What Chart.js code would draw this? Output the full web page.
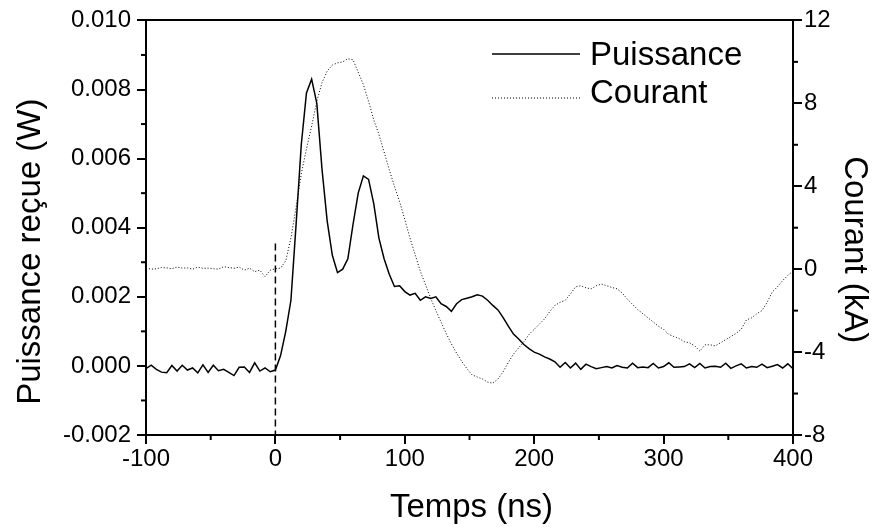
<!DOCTYPE html>
<html>
<head>
<meta charset="utf-8">
<script src="https://cdn.jsdelivr.net/npm/chart.js@4/dist/chart.umd.min.js"></script>
<style>
  html, body { margin: 0; padding: 0; background: #fff; }
  #wrap { width: 878px; height: 527px; }
</style>
</head>
<body>
<div id="wrap"><canvas id="c" width="878" height="527"></canvas></div>
<script>
// ---- data ----
const times = [
  -100,-96,-92,-88,-84,-80,-76,-72,-68,-64,-60,-56,-52,-48,-44,-40,-36,-32,-28,-24,-20,-16,-12,-8,-4,0,
  4,8,12,16,20,24,28,32,36,40,44,48,52,56,60,64,68,72,76,80,84,88,92,96,100,104,108,112,116,120,124,128,
  132,136,140,144,148,152,156,160,164,168,172,176,180,184,188,192,196,200,204,208,212,216,
  220,224,228,232,236,240,244,248,252,256,260,264,268,272,276,280,284,288,292,296,300,304,308,312,316,320,
  324,328,332,336,340,344,348,352,356,360,364,368,372,376,380,384,388,392,396,400
];
const puissance = [
  -0.00008,0.00002,-0.00010,-0.00018,-0.00020,0.00001,-0.00015,0.00002,-0.00012,-0.00006,-0.00020,0.00003,-0.00019,
  0.00002,-0.00014,-0.00010,-0.00019,-0.00028,-0.00004,-0.00003,-0.00019,0.00009,-0.00015,-0.00006,-0.00017,-0.00012,
  0.00030,0.00100,0.00190,0.00410,0.00640,0.00790,0.00830,0.00760,0.00570,0.00420,0.00320,0.00270,0.00280,0.00310,
  0.00410,0.00500,0.00550,0.00540,0.00470,0.00370,0.00310,0.00265,0.00230,0.00232,0.00215,0.00205,0.00210,0.00190,
  0.00200,0.00195,0.00200,0.00180,0.00172,0.00158,0.00180,0.00192,0.00196,0.00200,0.00206,0.00202,0.00190,0.00175,
  0.00162,0.00140,0.00115,0.00092,0.00078,0.00062,0.00050,0.00040,0.00034,0.00026,0.00020,0.00012,
  -0.00004,0.00010,-0.00006,0.00008,-0.00010,0.00005,-0.00002,-0.00008,-0.00005,-0.00002,-0.00006,0.00001,-0.00004,
  -0.00006,0.00008,-0.00005,-0.00003,-0.00005,0.00007,-0.00006,-0.00002,0.00009,-0.00004,-0.00003,-0.00002,0.00006,
  -0.00005,0.00007,-0.00006,-0.00002,-0.00001,-0.00004,0.00008,-0.00007,0.00000,0.00006,-0.00006,-0.00002,-0.00004,
  0.00005,-0.00005,-0.00001,0.00004,-0.00006,0.00006,-0.00008
];
const courant = [
  0.05,0.00,0.02,0.08,0.06,0.02,0.10,0.05,0.06,0.00,0.10,0.04,0.05,0.02,0.00,0.12,0.08,0.04,0.10,-0.05,0.05,-0.12,
  -0.05,-0.36,-0.05,0.02,
  0.05,0.40,1.50,3.00,4.60,5.80,6.90,8.10,9.00,9.55,9.85,9.95,10.00,10.15,10.10,9.50,8.90,8.10,7.20,6.50,5.65,4.80,
  4.00,3.25,2.40,1.50,0.70,-0.10,-0.75,-1.40,-2.00,-2.55,-3.10,-3.60,-4.05,-4.45,-4.80,-5.10,-5.20,-5.30,-5.45,-5.50,
  -5.30,-4.95,-4.50,-4.10,-3.80,-3.50,-3.15,-2.90,-2.65,-2.40,-2.05,-1.75,
  -1.60,-1.50,-1.20,-0.85,-0.80,-0.90,-0.95,-0.80,-0.72,-0.80,-0.88,-0.95,-1.15,-1.45,-1.70,-1.95,-2.15,-2.35,-2.55,
  -2.75,-2.90,-3.15,-3.25,-3.35,-3.50,-3.55,-3.70,-3.95,-3.65,-3.65,-3.70,-3.55,-3.40,-3.25,-3.10,-2.90,-2.45,-2.35,
  -2.15,-2.00,-1.60,-1.10,-0.85,-0.55,-0.30,-0.10
];
const markerTimes = [0, 0];
const markerValues = [0.00354, -0.002];
const seriesLabels = ['Puissance', 'Courant'];
const axisTitles = { x: 'Temps (ns)', y: 'Puissance reçue (W)', y2: 'Courant (kA)' };
const xTicks = { min: -100, max: 400, step: 100 };
const yLeftTicks = { min: -0.002, max: 0.010, step: 0.002 };
const yRightTicks = { min: -8, max: 12, step: 4 };

// ---- drawing ----
const FONT = '"Liberation Sans", Arial, Helvetica, sans-serif';
const tickFont = { family: FONT, size: 24 };
const TITLE_PX = 33;

const minorTicks = {
  id: 'minorTicks',
  afterDraw(chart) {
    const ctx = chart.ctx;
    ctx.save();
    ctx.strokeStyle = '#000';
    ctx.lineWidth = 2;
    const len = 5;
    ['x', 'y', 'y2'].forEach(id => {
      const s = chart.scales[id];
      const tv = s.ticks.map(t => t.value);
      for (let i = 0; i < tv.length - 1; i++) {
        const v = (tv[i] + tv[i + 1]) / 2;
        const p = s.getPixelForValue(v);
        ctx.beginPath();
        if (id === 'x') { ctx.moveTo(p, s.top); ctx.lineTo(p, s.top + len); }
        else if (id === 'y') { ctx.moveTo(s.right, p); ctx.lineTo(s.right - len, p); }
        else { ctx.moveTo(s.left, p); ctx.lineTo(s.left + len, p); }
        ctx.stroke();
      }
    });
    ctx.restore();
  }
};

const titlesPlugin = {
  id: 'titlesPlugin',
  afterDraw(chart) {
    const ctx = chart.ctx;
    const a = chart.chartArea;
    const sx = chart.scales.x, sy = chart.scales.y, sy2 = chart.scales.y2;
    ctx.save();
    ctx.font = TITLE_PX + 'px ' + FONT;
    ctx.fillStyle = '#000';
    ctx.textAlign = 'center';
    ctx.textBaseline = 'alphabetic';
    // bottom
    ctx.fillText(axisTitles.x, (sx.left + sx.right) / 2 + 2, sx.bottom - 10);
    // left
    ctx.save();
    ctx.translate(sy.left + 40, (a.top + a.bottom) / 2 + 24);
    ctx.rotate(-Math.PI / 2);
    ctx.fillText(axisTitles.y, 0, 0);
    ctx.restore();
    // right
    ctx.save();
    ctx.translate(sy2.right - 33, (a.top + a.bottom) / 2 + 22);
    ctx.rotate(Math.PI / 2);
    ctx.fillText(axisTitles.y2, 0, 0);
    ctx.restore();
    ctx.restore();
  }
};

const insideLegend = {
  id: 'insideLegend',
  afterDraw(chart) {
    const ctx = chart.ctx;
    const a = chart.chartArea;
    const rows = [
      { textY: 65, lineY: 54 },
      { textY: 103, lineY: 98 }
    ];
    ctx.save();
    ctx.font = TITLE_PX + 'px ' + FONT;
    ctx.fillStyle = '#000';
    ctx.textBaseline = 'alphabetic';
    ctx.textAlign = 'left';
    let r = 0;
    chart.data.datasets.forEach(ds => {
      if (!ds.label) return;
      const row = rows[r++];
      ctx.beginPath();
      ctx.strokeStyle = ds.borderColor;
      ctx.lineWidth = ds.borderWidth;
      ctx.setLineDash(ds.borderDash || []);
      ctx.moveTo(a.right - 301, row.lineY);
      ctx.lineTo(a.right - 213, row.lineY);
      ctx.stroke();
      ctx.setLineDash([]);
      ctx.fillText(ds.label, a.right - 203, row.textY);
    });
    ctx.restore();
  }
};

const axisCommon = (extra) => Object.assign({
  grid: { display: true, drawOnChartArea: false, drawTicks: true, tickLength: 9, color: '#000', lineWidth: 2 },
  border: { display: true, color: '#000', width: 2 }
}, extra);

new Chart(document.getElementById('c'), {
  type: 'line',
  data: {
    datasets: [
      {
        label: seriesLabels[0],
        data: times.map((t, i) => ({ x: t, y: puissance[i] })),
        borderColor: '#000', borderWidth: 1.5, pointRadius: 0, tension: 0, yAxisID: 'y', xAxisID: 'x'
      },
      {
        label: seriesLabels[1],
        data: times.map((t, i) => ({ x: t, y: courant[i] })),
        borderColor: '#000', borderWidth: 1, borderDash: [1, 2], pointRadius: 0, tension: 0, yAxisID: 'y2', xAxisID: 'x'
      },
      {
        label: '',
        data: markerTimes.map((t, i) => ({ x: t, y: markerValues[i] })),
        borderColor: '#000', borderWidth: 1.5, borderDash: [7, 4], pointRadius: 0, yAxisID: 'y', xAxisID: 'x'
      }
    ]
  },
  options: {
    responsive: false,
    animation: false,
    devicePixelRatio: 1,
    layout: { padding: 0 },
    plugins: { legend: { display: false }, tooltip: { enabled: false } },
    scales: {
      x: axisCommon({
        type: 'linear', position: 'bottom',
        min: xTicks.min, max: xTicks.max,
        ticks: { stepSize: xTicks.step, color: '#000', font: tickFont, padding: 1, maxRotation: 0 },
        afterFit: s => { s.height = 92; }
      }),
      xTop: {
        type: 'linear', position: 'top', min: xTicks.min, max: xTicks.max,
        ticks: { display: false }, grid: { display: false },
        border: { display: true, color: '#000', width: 2 },
        afterFit: s => { s.height = 19; }
      },
      y: axisCommon({
        type: 'linear', position: 'left',
        min: yLeftTicks.min, max: yLeftTicks.max,
        ticks: { stepSize: yLeftTicks.step, color: '#000', font: tickFont, padding: 6,
                 callback: v => v.toFixed(3) },
        afterFit: s => { s.width = 146; }
      }),
      y2: axisCommon({
        type: 'linear', position: 'right',
        min: yRightTicks.min, max: yRightTicks.max,
        ticks: { stepSize: yRightTicks.step, color: '#000', font: tickFont, padding: 2 },
        afterFit: s => { s.width = 85; }
      })
    }
  },
  plugins: [minorTicks, titlesPlugin, insideLegend]
});
</script>
</body>
</html>
